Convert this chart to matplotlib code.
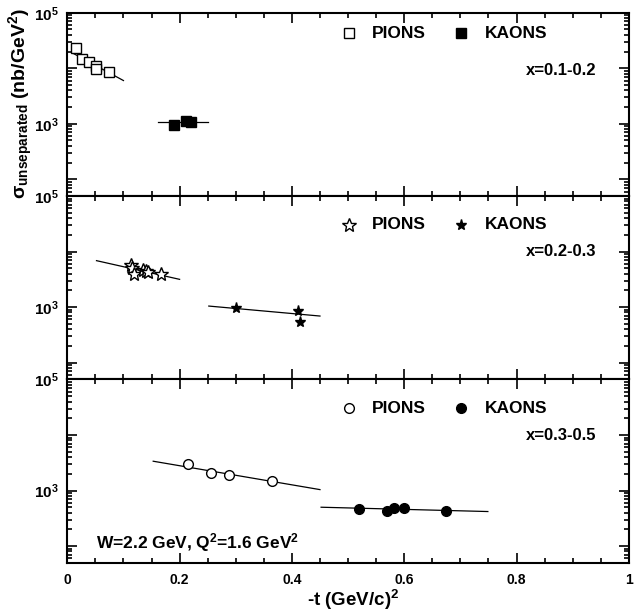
import numpy as np
import matplotlib
matplotlib.use('Agg')
import matplotlib.pyplot as plt
from matplotlib.ticker import MultipleLocator, LogLocator, FuncFormatter, NullFormatter

plt.rcParams['font.family'] = ['Liberation Sans', 'DejaVu Sans']
plt.rcParams['font.weight'] = 'bold'
plt.rcParams['mathtext.fontset'] = 'custom'
plt.rcParams['mathtext.rm'] = 'Liberation Sans:bold'
plt.rcParams['mathtext.it'] = 'Liberation Sans:bold'
plt.rcParams['mathtext.bf'] = 'Liberation Sans:bold'

# ---- du lieu doc tu hinh ----
# x = 0.1-0.2
pion1_t = [0.015, 0.027, 0.039, 0.052, 0.052, 0.075]
pion1_s = [23200, 14500, 12800, 10900, 9650, 8400]
pion1_fit_t = [0.011, 0.10]
pion1_fit_s = [18400, 6000]
kaon1_t = [0.190, 0.211, 0.220]
kaon1_s = [960, 1130, 1090]
kaon1_fit_t = [0.161, 0.250]
kaon1_fit_s = [1080, 1080]

# x = 0.2-0.3
pion2_t = [0.113, 0.116, 0.118, 0.135, 0.140, 0.144, 0.166]
pion2_s = [5640, 4980, 3960, 4680, 4400, 4220, 3960]
pion2_fit_t = [0.052, 0.20]
pion2_fit_s = [6850, 3155]
kaon2_t = [0.300, 0.410, 0.415]
kaon2_s = [948, 847, 546]
kaon2_fit_t = [0.252, 0.450]
kaon2_fit_s = [1042, 689]

# x = 0.3-0.5
pion3_t = [0.2155, 0.2554, 0.288, 0.365]
pion3_s = [3025, 2085, 1890, 1515]
pion3_fit_t = [0.153, 0.45]
pion3_fit_s = [3375, 1040]
kaon3_t = [0.520, 0.570, 0.581, 0.600, 0.674]
kaon3_s = [474, 431, 494, 480, 431]
kaon3_fit_t = [0.452, 0.749]
kaon3_fit_s = [501, 419]

x_ranges = ['x=0.1-0.2', 'x=0.2-0.3', 'x=0.3-0.5']

panels = [
    (pion1_t, pion1_s, pion1_fit_t, pion1_fit_s, kaon1_t, kaon1_s, kaon1_fit_t, kaon1_fit_s),
    (pion2_t, pion2_s, pion2_fit_t, pion2_fit_s, kaon2_t, kaon2_s, kaon2_fit_t, kaon2_fit_s),
    (pion3_t, pion3_s, pion3_fit_t, pion3_fit_s, kaon3_t, kaon3_s, kaon3_fit_t, kaon3_fit_s),
]

# kieu marker cho moi panel: (pion, kaon, size pion, size kaon)
markers = [('s', 's', 7, 7), ('*', '*', 10.5, 8), ('o', 'o', 7, 7)]


def nhan_y(v, pos):
    if abs(v - 1e3) < 1:
        return r'$10^{3}$'
    if abs(v - 1e5) < 1:
        return r'$10^{5}$'
    return ''


fig = plt.figure(figsize=(6.34, 6.13), dpi=100)
W, H = 634.0, 613.0
left = 67.3 / W
width = (628.8 - 67.3) / W
tops = [12.7, 196.0, 379.5]
ph = 183.3

legend_y = [0.888, 0.842, 0.843]
xtext_y = [0.687, 0.696, 0.697]

for i in range(3):
    ax = fig.add_axes([left, 1 - (tops[i] + ph) / H, width, ph / H])
    pt, ps, pft, pfs, kt, ks, kft, kfs = panels[i]
    mp, mk, sp, sk = markers[i]

    ax.plot(pft, pfs, color='black', lw=0.9)
    ax.plot(kft, kfs, color='black', lw=0.9)
    ax.plot(pt, ps, linestyle='none', marker=mp, ms=sp, mfc='white', mec='black', mew=1.0)
    ax.plot(kt, ks, linestyle='none', marker=mk, ms=sk, mfc='black', mec='black', mew=1.0)

    # chu thich
    ax.plot([0.502], [legend_y[i]], transform=ax.transAxes, marker=mp, ms=sp,
            mfc='white', mec='black', mew=1.0, clip_on=False)
    ax.plot([0.702], [legend_y[i]], transform=ax.transAxes, marker=mk, ms=sk,
            mfc='black', mec='black', mew=1.0, clip_on=False)
    ax.text(0.543, legend_y[i], 'PIONS', transform=ax.transAxes, fontsize=12.5,
            fontweight='bold', va='center', ha='left')
    ax.text(0.744, legend_y[i], 'KAONS', transform=ax.transAxes, fontsize=12.5,
            fontweight='bold', va='center', ha='left')
    ax.text(0.942, xtext_y[i], x_ranges[i], transform=ax.transAxes, fontsize=12,
            fontweight='bold', va='center', ha='right')

    ax.set_xlim(0, 1)
    ax.set_yscale('log')
    ax.set_ylim(50, 1e5)

    ax.xaxis.set_major_locator(MultipleLocator(0.2))
    ax.xaxis.set_minor_locator(MultipleLocator(0.05))
    ax.yaxis.set_major_locator(LogLocator(base=10, numticks=10))
    ax.yaxis.set_minor_locator(LogLocator(base=10, subs=np.arange(2, 10), numticks=20))
    ax.yaxis.set_major_formatter(FuncFormatter(nhan_y))
    ax.yaxis.set_minor_formatter(NullFormatter())

    ax.tick_params(which='both', direction='in', top=True, right=True, width=1.2)
    ax.tick_params(which='major', length=7)
    ax.tick_params(which='minor', length=3.6)
    ax.tick_params(axis='y', labelsize=11, pad=6)
    ax.tick_params(axis='x', labelsize=10, pad=7)
    for sp_ in ax.spines.values():
        sp_.set_linewidth(1.5)

    if i < 2:
        ax.set_xticklabels([])
    else:
        ax.xaxis.set_major_formatter(FuncFormatter(lambda v, p: '%g' % v))
        ax.text(0.052, 0.112, r'W=2.2 GeV, Q$^{2}$=1.6 GeV$^{2}$', transform=ax.transAxes,
                fontsize=12.5, fontweight='bold', va='center', ha='left')

# tieu de truc
fig.text(353 / W, 1 - 600 / H, r'-t (GeV/c)$^{2}$', fontsize=13.5, fontweight='bold',
         ha='center', va='center')
fig.text(21 / W, 1 - 8 / H, r'$\sigma_{unseparated}$ (nb/GeV$^{2}$)', fontsize=14,
         fontweight='bold', rotation=90, ha='center', va='top')

fig.savefig('out.png', dpi=100)
